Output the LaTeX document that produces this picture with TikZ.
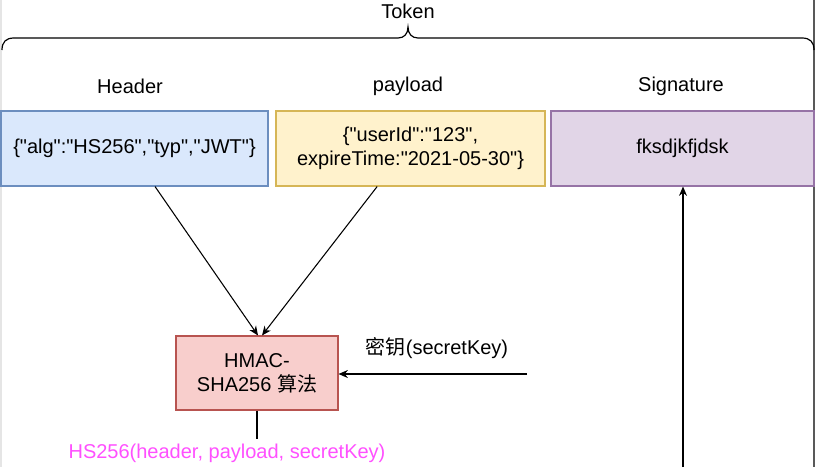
\documentclass[tikz,border=0pt]{standalone}
\usepackage{fontspec}
\setmainfont{Liberation Sans}[Ligatures=TeXOff]
\newfontfamily\cjk{Noto Sans CJK SC}
\usetikzlibrary{arrows.meta}

\definecolor{hdrfill}{HTML}{DAE8FC}
\definecolor{hdrline}{HTML}{6C8EBF}
\definecolor{payfill}{HTML}{FFF2CC}
\definecolor{payline}{HTML}{D6B656}
\definecolor{sigfill}{HTML}{E1D5E7}
\definecolor{sigline}{HTML}{9673A6}
\definecolor{algfill}{HTML}{F8CECC}
\definecolor{algline}{HTML}{B85450}
\definecolor{outpink}{HTML}{FF50FF}

\tikzset{
  part/.style={draw, line width=0.8pt, minimum height=56.25pt, inner sep=0pt,
    align=center, font=\fontsize{15}{18}\selectfont},
  title/.style={font=\fontsize{15}{18}\selectfont},
  arr/.style={-{Stealth[length=7pt,width=6pt]}, line width=0.8pt},
}

\begin{document}
\begin{tikzpicture}[x=0.75pt,y=-0.75pt]
				\useasboundingbox (0,0) rectangle (816,467);
				% window edges
				\draw [gray!20, line width=1pt](1,0)--(1,467);
				\draw [black!65, line width=1.6pt](814,0)--(814,467);
				% brace round the three parts
				\draw [line width = 0.9pt](2,50) .. controls (2,42) and (6,38) .. (14,38)
				  --(398,38) .. controls (404,38) and (408,34) .. (408,27)
				  .. controls (408,34) and (412,38) .. (418,38)
				  --(802,38) .. controls (810,38) and (814,42) .. (814,50);
				\node [title] (token) at (408,11){Token};
				% the three parts
				\node [title] (hdrname) at (130,86){Header};
				\node [title] (payname) at (408,86){payload};
				\node [title] (signame) at (681,86){Signature};
				\node [part, fill=hdrfill, draw=hdrline, minimum width=200.25pt] (hdr) at (134.5,148.5){\{"alg":"HS256","typ","JWT"\}};
				\node [part, fill=payfill, draw=payline, minimum width=201.75pt] (pay) at (410.5,148.5){\{"userId":"123",\\expireTime:"2021-05-30"\}};
				\node [part, fill=sigfill, draw=sigline, minimum width=197.25pt] (sig) at (682.5,148.5){fksdjkfjdsk};
				% algorithm
				\node [part, fill=algfill, draw=algline, minimum width=121.5pt, minimum height=55.5pt] (hmac) at (257,373){HMAC-\\SHA256 {\cjk 算法}};
				\node [title] (keyname) at (437,348){{\cjk 密钥}(secretKey)};
				\node [title, text=outpink] (out) at (227,453){HS256(header, payload, secretKey)};
				\coordinate (key) at (527,374);
				\coordinate (sigin) at (683,467);
				% connectors
				\draw [arr]([xshift=15.4pt]hdr.south)--([xshift=0.75pt]hmac.north);
				\draw [arr]([xshift=-25pt]pay.south)--([xshift=3.75pt]hmac.north);
				\draw [arr](key)--(key -| hmac.east);
				\draw [line width = 0.8pt](hmac.south)--(out.north -| hmac.south);
				\draw [arr](sigin)--(sigin |- sig.south);
			\end{tikzpicture}
\end{document}
